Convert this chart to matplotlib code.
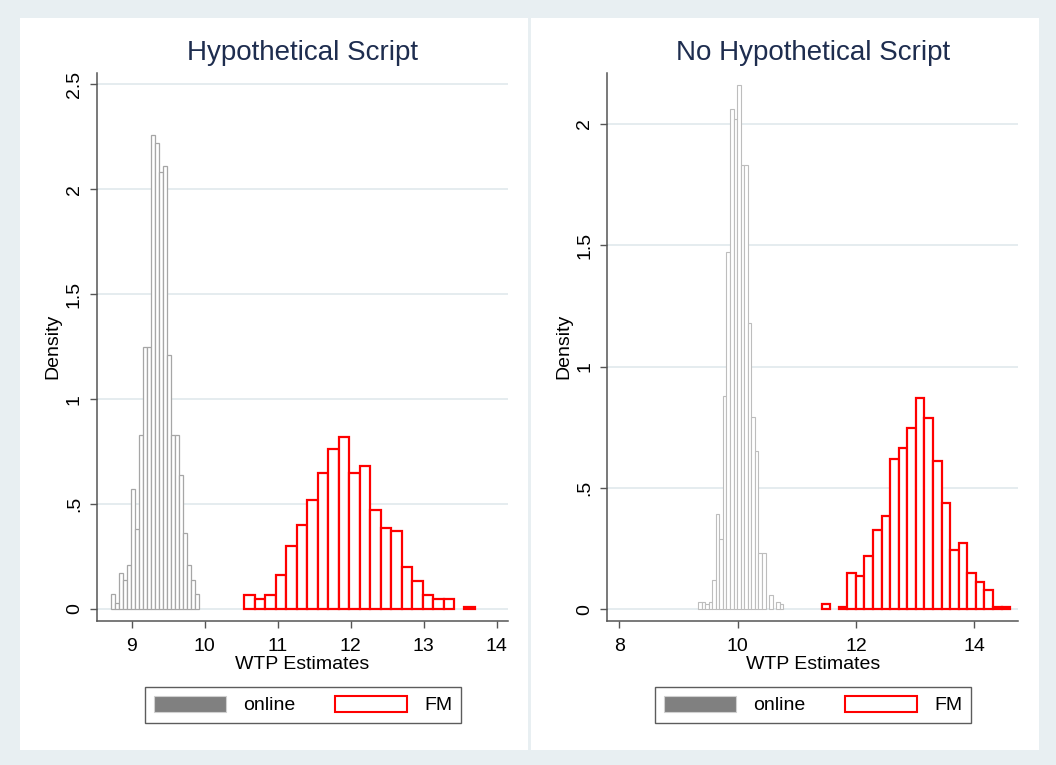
import numpy as np
import matplotlib
matplotlib.use("Agg")
import matplotlib.pyplot as plt
from matplotlib.patches import Rectangle, Patch

plt.rcParams['font.family'] = ['Liberation Sans', 'DejaVu Sans']

# histogram bins: first edge, bin width, densities
hyp_online_start = 8.71
hyp_online_width = 0.055
hyp_online = [0.07, 0.03, 0.17, 0.14, 0.21, 0.57, 0.38, 0.83, 1.25, 1.25, 2.26,
              2.22, 2.08, 2.11, 1.21, 0.83, 0.83, 0.64, 0.36, 0.21, 0.14, 0.07]

hyp_fm_start = 10.54
hyp_fm_width = 0.1438
hyp_fm = [0.067, 0.048, 0.067, 0.16, 0.30, 0.40, 0.52, 0.65, 0.76, 0.82, 0.65,
          0.68, 0.47, 0.385, 0.37, 0.20, 0.134, 0.067, 0.048, 0.048, 0.0, 0.008]

nohyp_online_start = 9.33
nohyp_online_width = 0.06
nohyp_online = [0.03, 0.03, 0.02, 0.03, 0.12, 0.39, 0.29, 0.88, 1.47, 2.06, 2.02,
                2.16, 1.83, 1.83, 1.18, 0.79, 0.65, 0.23, 0.23, 0.0, 0.06, 0.0,
                0.03, 0.02]

nohyp_fm_start = 11.416
nohyp_fm_width = 0.1448
nohyp_fm = [0.023, 0.0, 0.01, 0.149, 0.135, 0.218, 0.328, 0.384, 0.62, 0.664,
            0.747, 0.872, 0.788, 0.609, 0.439, 0.245, 0.273, 0.149, 0.11, 0.079,
            0.01, 0.01]

titles = ["Hypothetical Script", "No Hypothetical Script"]
xticks = [[9, 10, 11, 12, 13, 14], [8, 10, 12, 14]]
yticks = [[0, 0.5, 1, 1.5, 2, 2.5], [0, 0.5, 1, 1.5, 2]]
ytick_labels = [["0", ".5", "1", "1.5", "2", "2.5"], ["0", ".5", "1", "1.5", "2"]]
xlims = [(8.52, 14.16), (7.797, 14.74)]
ylims = [(-0.057, 2.555), (-0.049, 2.211)]

BG = '#e8eff2'
GRID = '#e3ebee'
NAVY = '#1e2d4f'
AXC = '#555555'

W, H = 1056, 765
fig = plt.figure(figsize=(W / 100, H / 100), dpi=100, facecolor=BG)

# white panels
panel_x = [20, 531]
for x0 in panel_x:
    fig.add_artist(Rectangle((x0 / W, 1 - 750 / H), 508 / W, 732 / H,
                             transform=fig.transFigure, facecolor='white',
                             edgecolor='none', zorder=0))

ax_left = [96.7, 607.3]
ax_width = [411.6, 411.0]
axes = []
for i in range(2):
    ax = fig.add_axes([ax_left[i] / W, 1 - 621 / H, ax_width[i] / W, 548.3 / H])
    axes.append(ax)


def draw_hist(ax, start, width, heights, face, edge, lw):
    heights = np.array(heights)
    lefts = start + width * np.arange(len(heights))
    keep = heights > 0
    ax.bar(lefts[keep], heights[keep], width=width, align='edge',
           facecolor=face, edgecolor=edge, linewidth=lw, zorder=3)


draw_hist(axes[0], hyp_online_start, hyp_online_width, hyp_online, 'white', '#a6a6a6', 0.9)
draw_hist(axes[0], hyp_fm_start, hyp_fm_width, hyp_fm, 'white', '#ff0000', 1.6)
draw_hist(axes[1], nohyp_online_start, nohyp_online_width, nohyp_online, 'white', '#bdbdbd', 0.8)
draw_hist(axes[1], nohyp_fm_start, nohyp_fm_width, nohyp_fm, 'white', '#ff0000', 1.6)

legend_x = [303, 813]
for i, ax in enumerate(axes):
    ax.set_xlim(*xlims[i])
    ax.set_ylim(*ylims[i])
    ax.set_xticks(xticks[i])
    ax.set_yticks(yticks[i])
    ax.set_yticklabels(ytick_labels[i], rotation=90, va='center')
    for s in ('top', 'right'):
        ax.spines[s].set_visible(False)
    for s in ('left', 'bottom'):
        ax.spines[s].set_color(AXC)
        ax.spines[s].set_linewidth(1.1)
    ax.tick_params(axis='both', length=5, width=1.0, color=AXC,
                   labelsize=14, labelcolor='black')
    ax.tick_params(axis='x', pad=7)
    ax.tick_params(axis='y', pad=5)
    ax.grid(axis='y', color=GRID, linewidth=1.3, zorder=0)
    ax.set_axisbelow(True)
    ax.set_xlabel("WTP Estimates", fontsize=14)
    ax.set_ylabel("Density", fontsize=14)
    ax.xaxis.set_label_coords(0.5, -0.08)
    ax.xaxis.label.set_va('center')
    ax.yaxis.set_label_coords((panel_x[i] + 33 - ax_left[i]) / ax_width[i], 0.5)
    ax.yaxis.label.set_va('center')

    fig.text((ax_left[i] + ax_width[i] / 2) / W, 1 - 53 / H, titles[i],
             fontsize=20, color=NAVY, ha='center', va='center')

    handles = [Patch(facecolor='#808080', edgecolor='#d0d0d0', linewidth=0.8),
               Patch(facecolor='white', edgecolor='#ff0000', linewidth=1.5)]
    leg = fig.legend(handles, ["online", "FM"], ncol=2, fontsize=14,
                     loc='center', bbox_to_anchor=(legend_x[i] / W, 1 - 705 / H),
                     handlelength=3.75, handleheight=0.93, handletextpad=0.87,
                     columnspacing=2.0, borderpad=0.45, frameon=True, fancybox=False)
    leg.get_frame().set_edgecolor('#333333')
    leg.get_frame().set_linewidth(1.0)

fig.savefig("out.png", dpi=100, facecolor=BG)
